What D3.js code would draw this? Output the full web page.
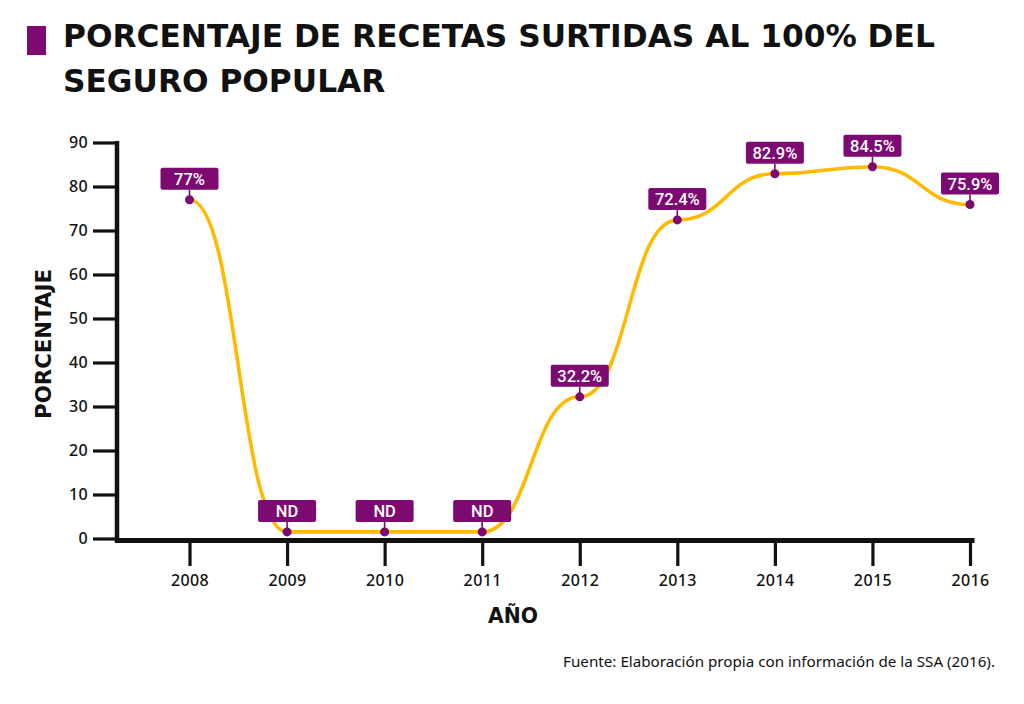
<!DOCTYPE html>
<html>
<head>
<meta charset="utf-8">
<script src="https://cdn.jsdelivr.net/npm/d3@7"></script>
<style>
  html, body { margin: 0; padding: 0; background: #ffffff; }
  svg { display: block; }
</style>
</head>
<body>
<svg id="chart" width="1024" height="704"></svg>
<script>
// ---- data ----
const years = [2008, 2009, 2010, 2011, 2012, 2013, 2014, 2015, 2016];
const values = [77, null, null, null, 32.2, 72.4, 82.9, 84.5, 75.9];
const labels = ["77%", "ND", "ND", "ND", "32.2%", "72.4%", "82.9%", "84.5%", "75.9%"];
const ndValue = 1.5; // position where "ND" (no data) markers are drawn
const yTicks = [0, 10, 20, 30, 40, 50, 60, 70, 80, 90];
const titleLines = ["PORCENTAJE DE RECETAS SURTIDAS AL 100% DEL", "SEGURO POPULAR"];
const yTitle = "PORCENTAJE";
const xTitle = "AÑO";
const source = "Fuente: Elaboración propia con información de la SSA (2016).";

// ---- styles ----
const PURPLE = "#7d0a70";
const YELLOW = "#ffba00";
const INK = "#111111";

const svg = d3.select("#chart");

function fitText(sel, targetWidth) {
  const node = sel.node();
  const len = node.getComputedTextLength();
  const fs = parseFloat(sel.attr("font-size"));
  if (len > 0) sel.attr("font-size", fs * targetWidth / len);
  return sel;
}

// ---- title ----
svg.append("rect").attr("x", 27).attr("y", 26).attr("width", 19).attr("height", 29).attr("fill", PURPLE);
const t1 = svg.append("text").attr("x", 63).attr("y", 47)
  .attr("font-family", "'DejaVu Sans', sans-serif").attr("font-weight", 700)
  .attr("font-size", 26).attr("fill", INK).text(titleLines[0]);
fitText(t1, 872);
const t2 = svg.append("text").attr("x", 63).attr("y", 91.5)
  .attr("font-family", "'DejaVu Sans', sans-serif").attr("font-weight", 700)
  .attr("font-size", t1.attr("font-size")).attr("fill", INK).text(titleLines[1]);

// ---- scales ----
const x = d3.scalePoint().domain(years).range([189.5, 970]);
const y = d3.scaleLinear().domain([0, 90]).range([538.5, 142.5]);

// ---- y axis ----
const yAxis = svg.append("g").attr("transform", "translate(117,0)")
  .call(d3.axisLeft(y).tickValues(yTicks).tickSize(24).tickPadding(5).tickFormat(d3.format("d")));
yAxis.select(".domain").remove();
yAxis.selectAll(".tick line").attr("stroke", INK).attr("stroke-width", 3.2);
yAxis.selectAll(".tick text").attr("fill", INK)
  .attr("font-family", "'Noto Sans', sans-serif").attr("font-weight", 500)
  .attr("font-size", 16).attr("letter-spacing", 0.4);
svg.append("line").attr("x1", 117).attr("x2", 117).attr("y1", 141).attr("y2", 542.5)
  .attr("stroke", INK).attr("stroke-width", 4.5);

// ---- x axis ----
const xAxis = svg.append("g").attr("transform", "translate(0,541)")
  .call(d3.axisBottom(x).tickSize(25).tickPadding(9));
xAxis.select(".domain").remove();
xAxis.selectAll(".tick line").attr("stroke", INK).attr("stroke-width", 3.2);
xAxis.selectAll(".tick text").attr("fill", INK)
  .attr("font-family", "'Noto Sans', sans-serif").attr("font-weight", 500)
  .attr("font-size", 16).attr("letter-spacing", 0.4);
svg.append("line").attr("x1", 115).attr("x2", 974.5).attr("y1", 540.5).attr("y2", 540.5)
  .attr("stroke", INK).attr("stroke-width", 4.8);

// ---- axis titles ----
const yt = svg.append("text")
  .attr("transform", "translate(51,344) rotate(-90)")
  .attr("text-anchor", "middle")
  .attr("font-family", "'DejaVu Sans', sans-serif").attr("font-weight", 700)
  .attr("font-size", 20).attr("fill", INK).text(yTitle);
fitText(yt, 150);
const xt = svg.append("text").attr("x", 513).attr("y", 623)
  .attr("text-anchor", "middle")
  .attr("font-family", "'DejaVu Sans', sans-serif").attr("font-weight", 700)
  .attr("font-size", 20).attr("fill", INK).text(xTitle);
fitText(xt, 50);

// ---- line ----
const pts = years.map((yr, i) => ({
  year: yr,
  value: values[i] === null ? ndValue : values[i],
  label: labels[i]
}));

const line = d3.line().x(d => x(d.year)).y(d => y(d.value)).curve(d3.curveBumpX);
svg.append("path").datum(pts).attr("d", line)
  .attr("fill", "none").attr("stroke", YELLOW).attr("stroke-width", 3.6)
  .attr("stroke-linecap", "round");

// ---- markers & labels ----
const boxW = 58, boxH = 22, gap = 10;
const mk = svg.append("g").selectAll("g").data(pts).join("g")
  .attr("transform", d => `translate(${x(d.year)},${y(d.value)})`);
mk.append("line").attr("x1", 0).attr("x2", 0).attr("y1", -gap).attr("y2", 0)
  .attr("stroke", PURPLE).attr("stroke-width", 1.6);
mk.append("circle").attr("r", 4.5).attr("fill", PURPLE);
mk.append("rect").attr("x", -boxW / 2).attr("y", -gap - boxH)
  .attr("width", boxW).attr("height", boxH).attr("rx", 2).attr("fill", PURPLE);
mk.append("text").attr("x", 0).attr("y", -gap - 4.8)
  .attr("text-anchor", "middle").attr("fill", "#ffffff")
  .attr("font-family", "Roboto, sans-serif").attr("font-weight", 500)
  .attr("font-size", 16.5).text(d => d.label);

// ---- source ----
const src = svg.append("text").attr("x", 995).attr("y", 667).attr("text-anchor", "end")
  .attr("font-family", "'Noto Sans', sans-serif").attr("font-size", 13.5)
  .attr("fill", INK).text(source);
fitText(src, 432);
</script>
</body>
</html>
